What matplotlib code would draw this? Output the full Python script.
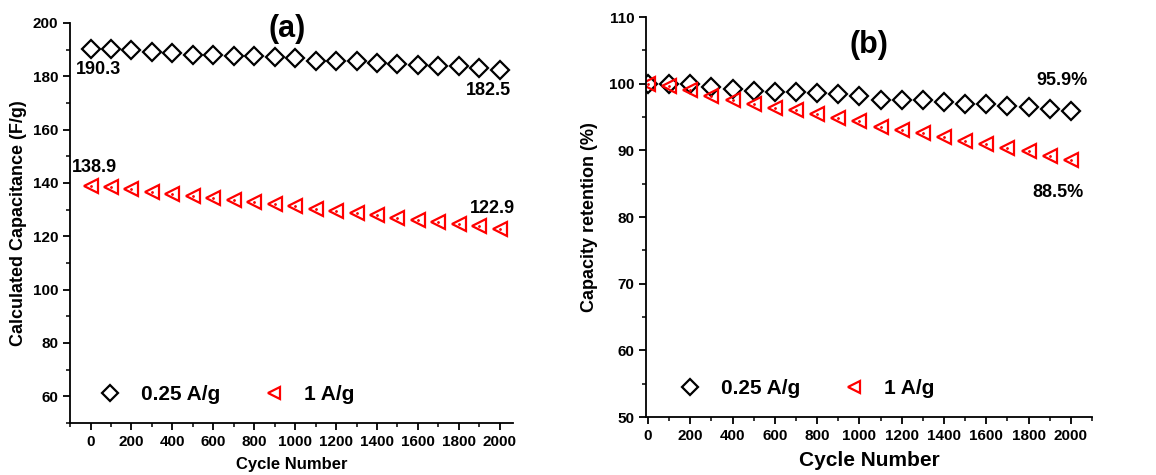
import matplotlib
matplotlib.use("Agg")
import matplotlib.pyplot as plt
from matplotlib.ticker import MultipleLocator

plt.rcParams['font.family'] = ['Liberation Sans', 'DejaVu Sans']
plt.rcParams['font.weight'] = 'bold'

cycles = list(range(0, 2001, 100))

# (a) calculated capacitance, F/g
cap_025 = [190.3, 190.2, 190.0, 189.3, 188.6, 188.0, 187.9, 187.7, 187.6, 187.2, 186.7,
           185.6, 185.6, 185.7, 185.1, 184.5, 184.4, 183.8, 183.7, 183.0, 182.5]
cap_1 = [138.9, 138.4, 137.7, 136.8, 135.9, 135.0, 134.2, 133.6, 133.0, 132.2, 131.2,
         130.1, 129.4, 128.9, 127.9, 127.0, 126.3, 125.5, 124.7, 123.7, 122.9]

# (b) capacity retention, %
ret_025 = [100.0, 100.0, 99.9, 99.5, 99.2, 98.9, 98.7, 98.7, 98.6, 98.4, 98.1,
           97.6, 97.6, 97.5, 97.2, 96.9, 96.9, 96.6, 96.5, 96.2, 95.9]
ret_1 = [100.0, 99.6, 99.0, 98.2, 97.5, 96.9, 96.4, 96.0, 95.5, 94.9, 94.4,
         93.5, 93.0, 92.6, 92.0, 91.4, 90.9, 90.4, 89.9, 89.2, 88.5]

labels = ['0.25 A/g', '1 A/g']

fig = plt.figure(figsize=(11.56, 4.75), dpi=100)
ax1 = fig.add_axes([0.0606, 0.1095, 0.3832, 0.8421])
ax2 = fig.add_axes([0.5588, 0.1221, 0.3858, 0.8421])


def draw(ax, y1, y2, ms_d, ms_t):
    ax.plot(cycles, y1, ls='none', marker='D', ms=ms_d, mfc='none', mec='black',
            mew=1.6, label=labels[0])
    ax.plot(cycles, y2, ls='none', marker='<', ms=ms_t, mfc='none', mec='red',
            mew=1.6, label=labels[1])
    ax.plot(cycles, y2, ls='none', marker='.', ms=2, color='red')
    for s in ('top', 'right'):
        ax.spines[s].set_visible(False)
    for s in ('left', 'bottom'):
        ax.spines[s].set_linewidth(1.3)
    ax.xaxis.set_major_locator(MultipleLocator(200))
    ax.xaxis.set_minor_locator(MultipleLocator(100))
    ax.tick_params(which='major', direction='out', length=5, width=1.3,
                   labelsize=11)
    ax.tick_params(which='minor', direction='out', length=3, width=1.1)
    for t in ax.get_xticklabels() + ax.get_yticklabels():
        t.set_fontweight('bold')
    leg = ax.legend(loc='lower left', ncol=2, frameon=False, fontsize=15,
                    handlelength=1.0, handletextpad=0.95, columnspacing=2.1,
                    markerscale=0.85)
    for t in leg.get_texts():
        t.set_fontweight('bold')
    return leg


# panel (a)
ax1.set_xlim(-100, 2065)
ax1.set_ylim(50, 200)
ax1.yaxis.set_major_locator(MultipleLocator(20))
ax1.yaxis.set_minor_locator(MultipleLocator(10))
draw(ax1, cap_025, cap_1, 9, 9.5)
ax1.legend_.set_bbox_to_anchor((0.025, 0.0))
ax1.set_xlabel('Cycle Number', fontsize=12, fontweight='bold', labelpad=6)
ax1.set_ylabel('Calculated Capacitance (F/g)', fontsize=13, fontweight='bold',
               labelpad=4)
ax1.text(0.49, 0.985, '(a)', transform=ax1.transAxes, ha='center', va='center',
         fontsize=22, fontweight='bold')
kw = dict(textcoords='offset pixels', ha='center', va='center', fontsize=13,
          fontweight='bold')
ax1.annotate('%.1f' % cap_025[0], (cycles[0], cap_025[0]), xytext=(8, -21), **kw)
ax1.annotate('%.1f' % cap_025[-1], (cycles[-1], cap_025[-1]), xytext=(-11, -21), **kw)
ax1.annotate('%.1f' % cap_1[0], (cycles[0], cap_1[0]), xytext=(4, 18), **kw)
ax1.annotate('%.1f' % cap_1[-1], (cycles[-1], cap_1[-1]), xytext=(-7, 20), **kw)

# panel (b)
ax2.set_xlim(-10, 2100)
ax2.set_ylim(50, 110)
ax2.yaxis.set_major_locator(MultipleLocator(10))
ax2.yaxis.set_minor_locator(MultipleLocator(5))
draw(ax2, ret_025, ret_1, 9, 9.5)
ax2.legend_.set_bbox_to_anchor((0.034, 0.0))
ax2.set_xlabel('Cycle Number', fontsize=15, fontweight='bold', labelpad=6)
ax2.set_ylabel('Capacity retention (%)', fontsize=13, fontweight='bold',
               labelpad=8)
ax2.text(0.5, 0.93, '(b)', transform=ax2.transAxes, ha='center', va='center',
         fontsize=22, fontweight='bold')
ax2.annotate('%.1f%%' % ret_025[-1], (cycles[-1], ret_025[-1]), xytext=(-9, 31), **kw)
ax2.annotate('%.1f%%' % ret_1[-1], (cycles[-1], ret_1[-1]), xytext=(-13, -32), **kw)

fig.savefig('out.png', dpi=100)
